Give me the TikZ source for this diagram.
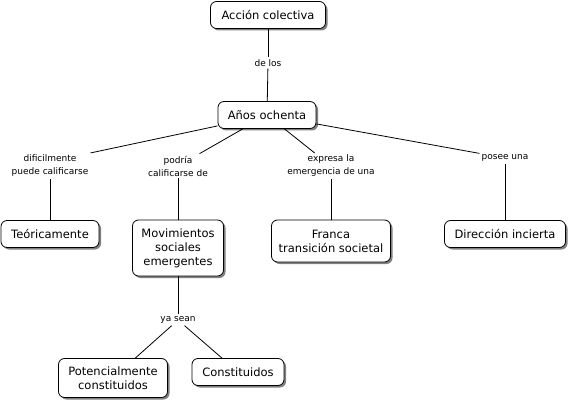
\documentclass[tikz,border=0pt]{standalone}
\usepackage{fontspec}
\setmainfont{DejaVu Sans}
\usetikzlibrary{shadows}
\tikzset{
  concept/.style={draw, rounded corners=6pt, fill=white, align=center,
    font=\fontsize{11.5}{14}\selectfont, inner xsep=5pt, inner ysep=4pt,
    minimum height=27pt, line width=0.8pt,
    drop shadow={shadow xshift=2pt, shadow yshift=-2pt, fill=black!50, opacity=1}},
  link/.style={align=center, font=\fontsize{9}{13}\selectfont, inner sep=2pt, fill=white},
  conn/.style={line width=0.8pt}
}
\begin{document}
\begin{tikzpicture}[x=1pt,y=-1pt]
\path[use as bounding box, fill=white] (0,0) rectangle (568,401);
\node[concept, minimum width=115pt] (ac) at (268,15) {Acción colectiva};
\node[link] (l1) at (268,63) {de los};
\node[concept, minimum width=98pt] (ao) at (267,115) {Años ochenta};
\node[link] (l2) at (50,166) {dificilmente\\puede calificarse};
\node[link] (l3) at (178,166) {podría\\calificarse de};
\node[link] (l4) at (331,166) {expresa la\\emergencia de una};
\node[link] (l5) at (505,158) {posee una};
\node[concept, minimum width=98pt] (te) at (50,234) {Teóricamente};
\node[concept, minimum width=91pt, minimum height=56pt] (mo) at (178,248) {Movimientos\\sociales\\emergentes};
\node[concept, minimum width=119pt, minimum height=42pt] (fr) at (331,241) {Franca\\transición societal};
\node[concept, minimum width=121pt] (di) at (505,234) {Dirección incierta};
\node[link] (l6) at (178,320) {ya sean};
\node[concept, minimum width=109pt, minimum height=39pt] (po) at (113,378) {Potencialmente\\constituidos};
\node[concept, minimum width=92pt] (co) at (238,372) {Constituidos};
\draw[conn] (ac) -- (l1);
\draw[conn] (l1) -- (ao);
\draw[conn] (ao.south west) ++(0,-3) -- (l2.north east);
\draw[conn] (ao) -- (l3);
\draw[conn] (ao) -- (l4);
\draw[conn] (ao) -- (l5);
\draw[conn] (l2) -- (te);
\draw[conn] (l3) -- (mo);
\draw[conn] (l4) -- (fr);
\draw[conn] (l5) -- (di);
\draw[conn] (mo) -- (l6);
\draw[conn] (l6) -- (po);
\draw[conn] (l6) -- (co);
\end{tikzpicture}
\end{document}
